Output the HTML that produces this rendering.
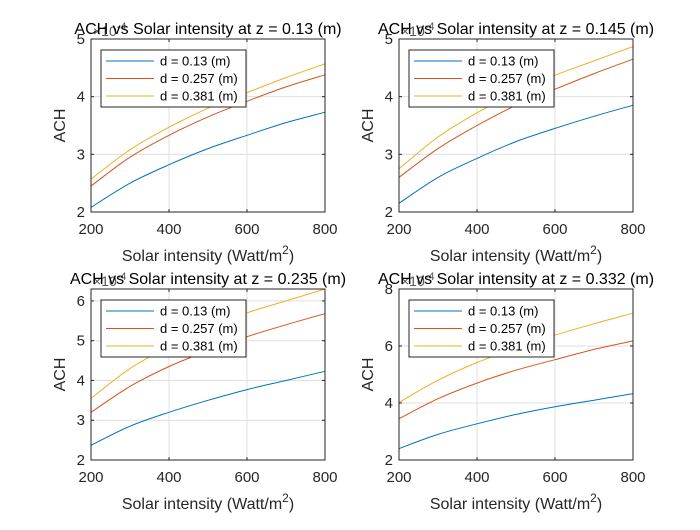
<!DOCTYPE html>
<html><head><meta charset="utf-8"><style>
body{margin:0;background:#fff}
svg text{font-family:"Liberation Sans",Arial,sans-serif}
</style></head><body>
<svg id="fig" width="700" height="525" xmlns="http://www.w3.org/2000/svg"></svg>
<script>
const xs = [200,300,400,500,600,700,800];
const seriesNames = ["d = 0.13 (m)","d = 0.257 (m)","d = 0.381 (m)"];
const titles = ["ACH vs Solar intensity at z = 0.13 (m)","ACH vs Solar intensity at z = 0.145 (m)","ACH vs Solar intensity at z = 0.235 (m)","ACH vs Solar intensity at z = 0.332 (m)"];
const p1Blue=[2.08,2.5,2.82,3.1,3.33,3.55,3.73];
const p1Red=[2.45,2.95,3.33,3.65,3.92,4.17,4.38];
const p1Yellow=[2.57,3.08,3.47,3.8,4.07,4.33,4.57];
const p2Blue=[2.15,2.6,2.93,3.22,3.45,3.66,3.85];
const p2Red=[2.6,3.1,3.5,3.85,4.13,4.4,4.65];
const p2Yellow=[2.75,3.3,3.72,4.07,4.37,4.62,4.87];
const p3Blue=[2.37,2.85,3.2,3.5,3.77,4.0,4.23];
const p3Red=[3.2,3.85,4.35,4.75,5.1,5.4,5.68];
const p3Yellow=[3.55,4.3,4.85,5.3,5.7,6.0,6.3];
const p4Blue=[2.4,2.9,3.27,3.6,3.87,4.1,4.33];
const p4Red=[3.45,4.15,4.7,5.15,5.52,5.88,6.18];
const p4Yellow=[4.02,4.8,5.42,5.92,6.38,6.78,7.15];
const xTicks=[200,400,600,800];
const yTicks1=[2,3,4,5], yTicks2=[2,3,4,5], yTicks3=[2,3,4,5,6], yTicks4=[2,4,6,8];
const yMax=[5,5,6.3,8];

const colors=["#0072BD","#D95319","#EDB120"];
const NS="http://www.w3.org/2000/svg";
const svg=document.getElementById('fig');
function mk(tag,attrs,parent){const e=document.createElementNS(NS,tag);for(const k in attrs)e.setAttribute(k,attrs[k]);(parent||svg).appendChild(e);return e;}
function smooth(pts){let d='M'+pts[0][0].toFixed(1)+','+pts[0][1].toFixed(1);
 for(let i=0;i<pts.length-1;i++){const p0=pts[Math.max(0,i-1)],p1=pts[i],p2=pts[i+1],p3=pts[Math.min(pts.length-1,i+2)];
  const c1=[p1[0]+(p2[0]-p0[0])/6,p1[1]+(p2[1]-p0[1])/6],c2=[p2[0]-(p3[0]-p1[0])/6,p2[1]-(p3[1]-p1[1])/6];
  d+='C'+c1.map(v=>v.toFixed(1))+' '+c2.map(v=>v.toFixed(1))+' '+p2.map(v=>v.toFixed(1));}
 return d;}
const panels=[
 {L:91,R:325,T:39,B:212,data:[p1Blue,p1Red,p1Yellow],yt:yTicks1},
 {L:399,R:633,T:39,B:212,data:[p2Blue,p2Red,p2Yellow],yt:yTicks2},
 {L:91,R:325,T:289,B:460,data:[p3Blue,p3Red,p3Yellow],yt:yTicks3},
 {L:399,R:633,T:289,B:460,data:[p4Blue,p4Red,p4Yellow],yt:yTicks4}];
panels.forEach((p,i)=>{
 const g=mk('g',{});
 
 
 const sx=v=>p.L+(v-200)/600*(p.R-p.L);
 const sy=v=>p.B-(v-2)/(yMax[i]-2)*(p.B-p.T);
 mk('rect',{x:p.L,y:p.T,width:p.R-p.L,height:p.B-p.T,fill:'#fff'},g);
 xTicks.forEach(t=>{const x=sx(t);
  const l=mk('line',{x1:x,x2:x,y1:p.T,y2:p.B,stroke:'#dfdfdf','stroke-width':1},g);
  
  mk('line',{x1:x,x2:x,y1:p.B,y2:p.B-3,stroke:'#262626'},g);mk('line',{x1:x,x2:x,y1:p.T,y2:p.T+3,stroke:'#262626'},g);
  const tx=mk('text',{x:x,y:p.B+22,'text-anchor':'middle','font-size':15,fill:'#262626'},g);tx.textContent=t;
  });
 p.yt.forEach(t=>{const y=sy(t);
  mk('line',{x1:p.L,x2:p.R,y1:y,y2:y,stroke:'#dfdfdf'},g);
  mk('line',{x1:p.L,x2:p.L+3,y1:y,y2:y,stroke:'#262626'},g);mk('line',{x1:p.R,x2:p.R-3,y1:y,y2:y,stroke:'#262626'},g);
  const tx=mk('text',{x:p.L-6,y:y+5,'text-anchor':'end','font-size':15,fill:'#262626'},g);tx.textContent=t;
  });
 p.data.forEach((arr,k)=>{
  const pts=arr.map((v,j)=>[sx(xs[j]),sy(v)]);
  const pl=mk('path',{d:smooth(pts),fill:'none',stroke:colors[k],'stroke-width':1},g);
  });
 mk('rect',{x:p.L,y:p.T,width:p.R-p.L,height:p.B-p.T,fill:'none',stroke:'#262626','stroke-width':1},g);
 const xl=mk('text',{x:(p.L+p.R)/2,y:p.B+49,'text-anchor':'middle','font-size':16,fill:'#262626'},g);
 xl.innerHTML='Solar intensity (Watt/m<tspan dy="-7" font-size="12">2</tspan><tspan dy="7">)</tspan>';
 
 const yl=mk('text',{transform:`translate(${p.L-26},${(p.T+p.B)/2}) rotate(-90)`,'text-anchor':'middle','font-size':16,fill:'#262626'},g);
 yl.textContent='ACH';
 const ex=mk('text',{x:p.L+2,y:p.T-3,'font-size':14,fill:'#555'},g);
 ex.innerHTML='×10<tspan dy="-6" font-size="11">-4</tspan>';
 
 const tt=mk('text',{x:(p.L+p.R)/2,y:p.T-5,'text-anchor':'middle','font-size':16,fill:'#000'},g);
 tt.textContent=titles[i];
 const lg=mk('g',{},g);
 const lx=p.L+10, ly=p.T+11;
 mk('rect',{x:lx,y:ly,width:145,height:57,fill:'#fff',stroke:'#262626'},lg);
 seriesNames.forEach((s,k)=>{const yy=ly+11+k*17.5;
  mk('line',{x1:lx+5,x2:lx+53,y1:yy,y2:yy,stroke:colors[k]},lg);
  const t=mk('text',{x:lx+59,y:yy+4.5,'font-size':13,fill:'#000'},lg);t.textContent=s;
  });
});
</script>
</body></html>
